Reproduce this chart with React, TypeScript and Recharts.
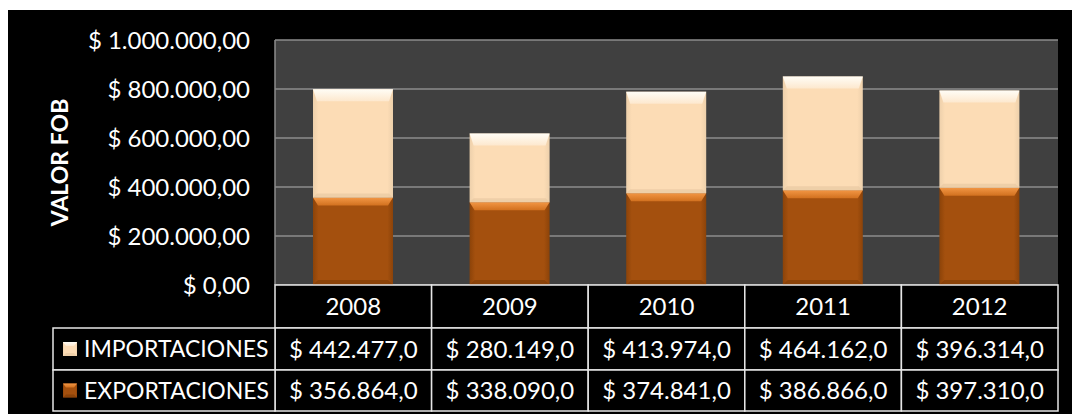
import React from 'react';
import { BarChart, Bar, XAxis, YAxis, CartesianGrid } from 'recharts';

const years = ['2008', '2009', '2010', '2011', '2012'];
const importaciones = [442477.0, 280149.0, 413974.0, 464162.0, 396314.0];
const exportaciones = [356864.0, 338090.0, 374841.0, 386866.0, 397310.0];
const yTicks = [0, 200000, 400000, 600000, 800000, 1000000];
const seriesNames = ['IMPORTACIONES', 'EXPORTACIONES'];
const axisTitle = 'VALOR FOB';

const data = years.map((year, i) => ({ year, exp: exportaciones[i], imp: importaciones[i] }));

const W = 1064;
const H = 404;
const MARGIN = { top: 30, right: 14, left: 0, bottom: 3 };
const Y_AXIS_W = 267;
const X_AXIS_H = H - MARGIN.top - MARGIN.bottom - 245;
const PLOT_W = W - MARGIN.left - MARGIN.right - Y_AXIS_W;
const BAND = PLOT_W / years.length;
const ROW_H = [43, 42, 41];
const LEGEND_LEFT = 45;
const FONT = 'Lato, "Open Sans", "DejaVu Sans", sans-serif';
const BORDER = '#e6e6e6';

const fmt = (n: number, dec: number) => {
  const [int, frac] = n.toFixed(dec).split('.');
  const withSep = int.replace(/\B(?=(\d{3})+(?!\d))/g, '.');
  return '$ ' + withSep + (dec ? ',' + frac : '');
};

type Pal = { key: string; main: string; hi: string; hi2: string; side: string; bottom: string; bottomOp: number };
const PAL_IMP: Pal = { key: 'imp', main: '#FCDCB5', hi: '#FFFDF6', hi2: '#FDE8CE', side: '#EDD0AB', bottom: '#E8C9A2', bottomOp: 0.7 };
const PAL_EXP: Pal = { key: 'exp', main: '#A4500E', hi: '#F29644', hi2: '#D2711F', side: '#8C4309', bottom: '#7C3B07', bottomOp: 0.6 };

const bevelRect = (pal: Pal, id: string, x: number, y: number, w: number, h: number, tb: number, sb: number) => (
  <g>
    <defs>
      <linearGradient id={`${id}-t`} x1="0" y1="0" x2="0" y2="1">
        <stop offset="0" stopColor={pal.hi} />
        <stop offset="1" stopColor={pal.hi2} />
      </linearGradient>
      <linearGradient id={`${id}-b`} x1="0" y1="0" x2="1" y2="0">
        <stop offset="0" stopColor={pal.side} />
        <stop offset="0.07" stopColor={pal.main} />
        <stop offset="0.93" stopColor={pal.main} />
        <stop offset="1" stopColor={pal.side} />
      </linearGradient>
    </defs>
    <rect x={x} y={y} width={w} height={h} fill={`url(#${id}-b)`} />
    <polygon
      points={`${x},${y + h} ${x + w},${y + h} ${x + w - sb},${y + h - sb} ${x + sb},${y + h - sb}`}
      fill={pal.bottom}
      opacity={pal.bottomOp}
    />
    <polygon
      points={`${x},${y} ${x + w},${y} ${x + w - sb},${y + tb} ${x + sb},${y + tb}`}
      fill={`url(#${id}-t)`}
    />
  </g>
);

const makeShape = (pal: Pal, tb: number, sb: number) => (props: any) => {
  const { x, y, width, height, index } = props;
  if (!height || height <= 0) return <g />;
  return bevelRect(pal, `${pal.key}-${index}`, x, y, width, height, Math.min(tb, height / 2), sb);
};

const textStyle = { fontFamily: FONT, fontSize: 24, fill: '#ffffff' } as const;

const YTick = (props: any) => {
  const { x, y, payload } = props;
  return (
    <text x={x} y={y} dy="0.36em" textAnchor="end" style={textStyle}>
      {fmt(payload.value, 2)}
    </text>
  );
};

const TableTick = (props: any) => {
  const { x, y, payload, index } = props;
  const i = typeof payload.index === 'number' ? payload.index : index;
  const half = BAND / 2;
  const left = x - half;
  const r0 = y;
  const r1 = r0 + ROW_H[0];
  const r2 = r1 + ROW_H[1];
  const r3 = r2 + ROW_H[2];
  const rows = [
    { top: r0, bottom: r1, text: years[i] },
    { top: r1, bottom: r2, text: fmt(importaciones[i], 1) },
    { top: r2, bottom: r3, text: fmt(exportaciones[i], 1) },
  ];
  return (
    <g>
      {rows.map((r, k) => (
        <g key={k}>
          <rect x={left} y={r.top} width={BAND} height={r.bottom - r.top} fill="#000" stroke={BORDER} strokeWidth={1.5} />
          <text x={x} y={(r.top + r.bottom) / 2} dy="0.36em" textAnchor="middle" style={textStyle}>
            {r.text}
          </text>
        </g>
      ))}
      {i === 0 && (
        <g>
          {[
            { top: r1, bottom: r2, pal: PAL_IMP, name: seriesNames[0] },
            { top: r2, bottom: r3, pal: PAL_EXP, name: seriesNames[1] },
          ].map((r, k) => {
            const cy = (r.top + r.bottom) / 2;
            return (
              <g key={k}>
                <rect x={LEGEND_LEFT} y={r.top} width={left - LEGEND_LEFT} height={r.bottom - r.top} fill="#000" stroke={BORDER} strokeWidth={1.5} />
                {bevelRect(r.pal, `leg-${k}`, LEGEND_LEFT + 10, cy - 7, 14, 14, 4, 3)}
                <text x={LEGEND_LEFT + 31} y={cy} dy="0.36em" textAnchor="start" style={{ ...textStyle, fontSize: 23 }}>
                  {r.name}
                </text>
              </g>
            );
          })}
        </g>
      )}
    </g>
  );
};

const AxisTitle = (props: any) => {
  const vb = props.viewBox || { x: 0, y: MARGIN.top, width: Y_AXIS_W, height: 245 };
  const cx = vb.x + 52;
  const cy = vb.y + vb.height / 2;
  return (
    <text
      x={cx}
      y={cy}
      dy="0.36em"
      textAnchor="middle"
      transform={`rotate(-90 ${cx} ${cy})`}
      style={{ fontFamily: FONT, fontSize: 23, fontWeight: 700, fill: '#ffffff' }}
    >
      {axisTitle}
    </text>
  );
};

export default function App() {
  return (
    <div style={{ position: 'absolute', left: 8, top: 10, width: W, height: H, background: '#000', overflow: 'hidden' }}>
      <BarChart width={W} height={H} data={data} margin={MARGIN}>
        <CartesianGrid vertical={false} stroke="#8c8c8c" strokeWidth={1.5} fill="#404040" />
        <XAxis
          dataKey="year"
          interval={0}
          axisLine={false}
          tickLine={false}
          tickSize={0}
          tickMargin={0}
          height={X_AXIS_H}
          tick={<TableTick />}
        />
        <YAxis
          type="number"
          domain={[0, 1000000]}
          ticks={yTicks}
          width={Y_AXIS_W}
          axisLine={{ stroke: '#8c8c8c', strokeWidth: 1.5 }}
          tickLine={false}
          tickSize={0}
          tickMargin={25}
          tick={<YTick />}
          label={{ content: <AxisTitle /> }}
        />
        <Bar dataKey="exp" stackId="a" barSize={80} isAnimationActive={false} shape={makeShape(PAL_EXP, 8, 5)} />
        <Bar dataKey="imp" stackId="a" barSize={80} isAnimationActive={false} shape={makeShape(PAL_IMP, 12, 4)} />
      </BarChart>
    </div>
  );
}
